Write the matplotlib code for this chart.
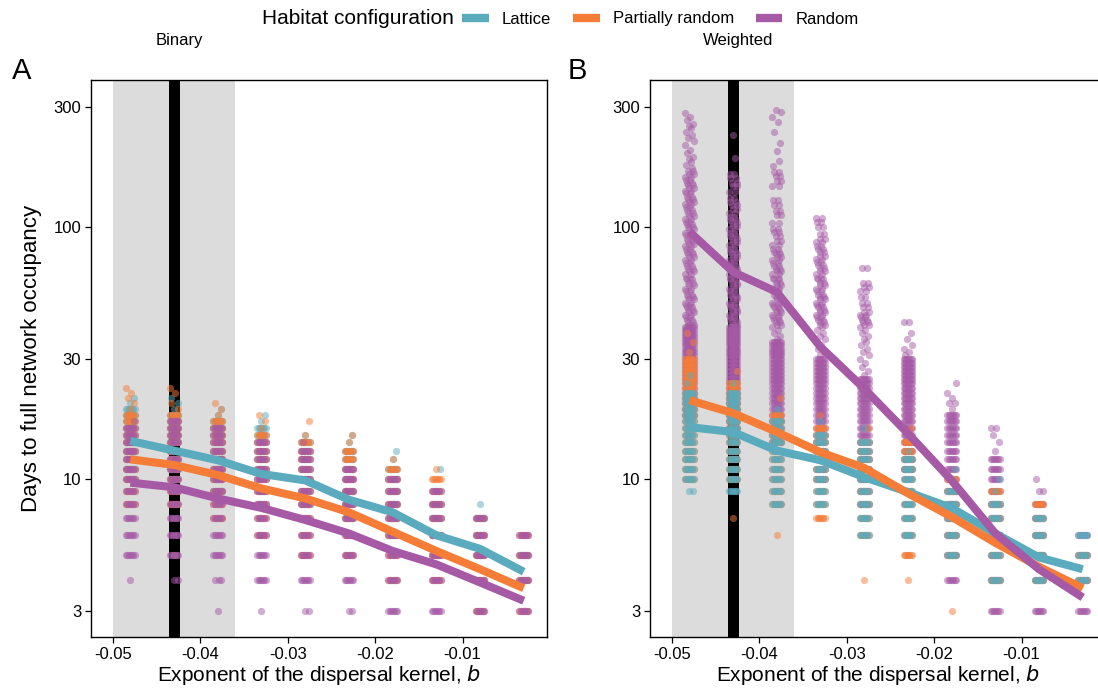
import matplotlib.pyplot as plt
import numpy as np
from matplotlib.lines import Line2D

plt.rcParams["font.family"] = ["Liberation Sans", "DejaVu Sans"]
plt.rcParams["axes.unicode_minus"] = False

b_values = [-0.048, -0.043, -0.038, -0.033, -0.028, -0.023, -0.018, -0.013, -0.008, -0.003]
configs = ["Lattice", "Partially random", "Random"]
colors = ["#5aabbd", "#f57d38", "#a65aa6"]

# mean days to full network occupancy per exponent
binary_lattice_mean = [14.2, 13.0, 11.9, 10.5, 9.9, 8.3, 7.4, 6.0, 5.3, 4.3]
binary_partial_mean = [12.0, 11.4, 10.4, 9.2, 8.4, 7.4, 6.2, 5.2, 4.4, 3.7]
binary_random_mean = [9.7, 9.3, 8.4, 7.7, 6.9, 6.1, 5.2, 4.6, 3.9, 3.3]
weighted_lattice_mean = [16.1, 15.4, 13.0, 11.9, 10.2, 8.9, 7.7, 6.1, 4.9, 4.4]
weighted_partial_mean = [20.6, 18.3, 15.4, 12.8, 11.1, 8.8, 7.1, 5.6, 4.5, 3.7]
weighted_random_mean = [96.0, 66.4, 55.3, 33.5, 22.9, 15.2, 9.9, 6.1, 4.4, 3.4]

# day counts reached by many runs (one list per exponent)
binary_lattice_common = [
    [10, 11, 12, 13, 14, 15, 16, 17, 18, 19],
    [10, 11, 12, 13, 14, 15, 16, 17, 18],
    [9, 10, 11, 12, 13, 14, 15, 16, 17],
    [8, 9, 10, 11, 12, 13, 14, 15, 16],
    [8, 9, 10, 11, 12, 13, 14],
    [7, 8, 9, 10, 11, 12, 13],
    [6, 7, 8, 9, 10, 11],
    [5, 6, 7, 8],
    [4, 5, 6, 7],
    [4, 5],
]
binary_partial_common = [
    [8, 9, 10, 11, 12, 13, 14, 15, 16, 17, 18],
    [8, 9, 10, 11, 12, 13, 14, 15, 16, 17, 18],
    [7, 8, 9, 10, 11, 12, 13, 14, 15, 16, 17],
    [6, 7, 8, 9, 10, 11, 12, 13, 14, 15],
    [5, 6, 7, 8, 9, 10, 11, 12, 13, 14],
    [5, 6, 7, 8, 9, 10, 11, 12, 13],
    [4, 5, 6, 7, 8, 9, 10, 11],
    [4, 5, 6, 7, 8, 9, 10],
    [3, 4, 5, 6, 7],
    [3, 4, 5, 6],
]
binary_random_common = [
    [5, 6, 7, 8, 9, 10, 11, 12, 13, 14, 15, 16],
    [5, 6, 7, 8, 9, 10, 11, 12, 13, 14, 15, 16, 17],
    [5, 6, 7, 8, 9, 10, 11, 12, 13, 14, 15, 16],
    [4, 5, 6, 7, 8, 9, 10, 11, 12, 13, 14],
    [4, 5, 6, 7, 8, 9, 10, 11, 12, 13],
    [4, 5, 6, 7, 8, 9, 10, 11],
    [3, 4, 5, 6, 7, 8, 9, 10],
    [3, 4, 5, 6, 7, 8, 9],
    [3, 4, 5, 6, 7],
    [3, 4, 5, 6],
]

# day counts reached by only a few runs
binary_lattice_rare = [[20, 21], [19, 20, 21], [18, 19], [17, 18], [15], [14, 15], [12, 13], [9, 11], [8], []]
binary_partial_rare = [[19, 20, 21, 22, 23], [5, 19, 20, 22, 23], [18, 19, 20], [16, 17, 18], [15, 17],
                       [14, 15], [12], [11], [], []]
binary_random_rare = [[4, 17], [4, 4], [3, 4, 4, 4], [3], [3, 3, 14], [3, 3], [], [], [], []]

weighted_lattice_common = [
    [10, 11, 12, 13, 14, 15, 16, 17, 18, 19, 20, 21, 22],
    [9, 10, 11, 12, 13, 14, 15, 16, 17, 18, 19, 20, 21, 22],
    [8, 9, 10, 11, 12, 13, 14, 15, 16, 17],
    [8, 9, 10, 11, 12, 13, 14, 15],
    [6, 7, 8, 9, 10, 11, 12, 13, 14],
    [6, 7, 8, 9, 10, 11, 12],
    [5, 6, 7, 8, 9],
    [4, 5, 6, 7, 8],
    [4, 5, 6, 7],
    [4, 5, 6],
]
weighted_partial_common = [
    [10, 11, 12, 13, 14, 15, 16, 17, 18, 19, 20, 21, 22, 23, 24, 25, 26, 27, 28, 29, 30],
    [10, 11, 12, 13, 14, 15, 16, 17, 18, 19, 20, 21, 22, 23, 24],
    [8, 9, 10, 11, 12, 13, 14, 15, 16, 17, 18],
    [7, 8, 9, 10, 11, 12, 13, 14, 15, 16],
    [6, 7, 8, 9, 10, 11, 12, 13, 14],
    [5, 6, 7, 8, 9, 10, 11, 12, 13, 14],
    [5, 6, 7, 8, 9, 10],
    [4, 5, 6, 7, 8, 9],
    [4, 5, 6, 7, 8],
    [4, 5],
]
weighted_random_common = [
    [18, 19, 20, 21, 22, 23, 24, 25, 26, 27, 28, 29, 30, 31, 32, 33, 34, 35, 36, 37, 38, 39, 40],
    [16, 17, 18, 19, 20, 21, 22, 23, 24, 25, 26, 27, 28, 29, 30, 31, 32, 33, 34, 35, 36, 37, 38, 39, 40],
    [14, 15, 16, 17, 18, 19, 20, 21, 22, 23, 24, 25, 26, 27, 28, 29, 30, 31, 32, 33, 34, 35],
    [10, 11, 12, 13, 14, 15, 16, 17, 18, 19, 20, 21, 22, 23, 24, 25, 26, 27, 28, 29, 30],
    [8, 9, 10, 11, 12, 13, 14, 15, 16, 17, 18, 19, 20, 21, 22, 23, 24, 25],
    [11, 12, 13, 14, 15, 16, 17, 18, 19, 20, 21, 22, 23, 24, 25, 26, 27, 28, 29, 30],
    [4, 5, 6, 7, 8, 9, 10, 11, 12, 13, 14, 15, 16, 17, 18],
    [3, 4, 5, 6, 7, 8, 9, 10, 11, 12],
    [3, 4, 5, 6, 7, 8],
    [3, 4, 5, 6],
]

weighted_lattice_rare = [[9, 9, 24, 26], [24], [19], [17], [16], [13], [10, 11], [9, 10], [], []]
weighted_partial_rare = [[32, 35, 38], [7, 27], [6, 21], [18], [4, 16], [4, 16], [3], [], [], []]
weighted_random_rare = [
    [41, 42, 43, 44, 45, 46, 47, 48, 49, 50, 52, 53, 54, 56, 57, 59, 60, 62, 63, 65, 67, 68, 70,
     72, 74, 76, 78, 80, 82, 84, 86, 88, 90, 93, 95, 98, 100, 103, 105, 108, 111, 114, 117, 120,
     123, 126, 129, 132, 136, 139, 143, 147, 150, 154, 158, 163, 167, 171, 176, 181, 186, 190,
     196, 203, 212, 220, 226, 232, 238, 246, 252, 257, 265, 272, 284],
    [41, 42, 43, 44, 45, 46, 47, 48, 49, 50, 52, 53, 54, 56, 57, 59, 60, 62, 63, 65, 67, 68, 70,
     72, 74, 76, 78, 80, 82, 85, 87, 90, 92, 95, 98, 101, 104, 107, 110, 114, 118, 122, 126, 131,
     138, 145, 150, 156, 163, 188, 232],
    [36, 37, 38, 39, 40, 41, 42, 43, 44, 45, 46, 47, 48, 49, 50, 52, 53, 54, 56, 57, 59, 60, 62,
     63, 65, 67, 68, 70, 72, 74, 76, 78, 80, 82, 85, 88, 92, 96, 98, 104, 112, 116, 122, 128,
     146, 152, 160, 166, 174, 182, 200, 215, 238, 262, 272, 285, 292],
    [31, 32, 33, 34, 35, 36, 37, 38, 39, 40, 41, 42, 43, 44, 45, 46, 47, 48, 49, 50, 52, 53, 54,
     56, 57, 59, 60, 62, 63, 65, 67, 69, 71, 73, 75, 77, 80, 82, 84, 87, 90, 94, 100, 105, 109],
    [26, 27, 28, 29, 30, 31, 32, 33, 34, 35, 36, 37, 38, 39, 40, 41, 42, 43, 44, 45, 46, 48, 50,
     53, 56, 58, 60, 69],
    [5, 7, 31, 32, 33, 34, 36, 38, 42],
    [19, 20, 20, 21, 22, 24],
    [13, 14, 15, 16, 16],
    [9, 9, 10],
    [],
]

band_offsets = np.linspace(-0.0005, 0.0005, 7)
single_offsets = [0.0, 0.0004, -0.0003, 0.0001, -0.0005, 0.0005, -0.0001, 0.0003, -0.0004, 0.0002]


def draw_points(ax, common, rare, color):
    xs, ys = [], []
    for b, days in zip(b_values, common):
        for d in days:
            xs.extend(b + band_offsets)
            ys.extend([d] * len(band_offsets))
    for b, days in zip(b_values, rare):
        for i, d in enumerate(days):
            xs.append(b + single_offsets[i % len(single_offsets)])
            ys.append(d)
            # dense tails get a second point beside the first
            if d > 40 and d < 170:
                xs.append(b + single_offsets[(i + 5) % len(single_offsets)])
                ys.append(d)
    ax.scatter(xs, ys, s=27, color=color, alpha=0.5, linewidths=0, zorder=3)


def style_axes(ax):
    ax.set_yscale("log")
    ax.set_xlim(-0.0525, -0.00034)
    ax.set_ylim(2.37, 383)
    ax.axvspan(-0.05, -0.036, color="#dcdcdc", lw=0, zorder=0)
    ax.axvline(-0.043, color="black", lw=7.9, zorder=1)
    ax.set_yticks([3, 10, 30, 100, 300])
    ax.set_yticklabels(["3", "10", "30", "100", "300"])
    ax.yaxis.set_minor_locator(plt.NullLocator())
    ax.set_xticks([-0.05, -0.04, -0.03, -0.02, -0.01])
    ax.set_xticklabels(["-0.05", "-0.04", "-0.03", "-0.02", "-0.01"])
    ax.tick_params(labelsize=12, length=4, width=0.9, colors="black", pad=3)
    for sp in ax.spines.values():
        sp.set_linewidth(1.0)
    ax.set_xlabel("Exponent of the dispersal kernel, $\\it{b}$", fontsize=15, labelpad=1)


fig = plt.figure(figsize=(10.98, 6.9), dpi=100)
ax_a = fig.add_axes([91 / 1098, 53 / 690, 456 / 1098, 557 / 690])
ax_b = fig.add_axes([650 / 1098, 53 / 690, 456 / 1098, 557 / 690])

# Binary: random drawn last
style_axes(ax_a)
draw_points(ax_a, binary_lattice_common, binary_lattice_rare, colors[0])
draw_points(ax_a, binary_partial_common, binary_partial_rare, colors[1])
draw_points(ax_a, binary_random_common, binary_random_rare, colors[2])

# Weighted: lattice drawn last
style_axes(ax_b)
draw_points(ax_b, weighted_random_common, weighted_random_rare, colors[2])
draw_points(ax_b, weighted_partial_common, weighted_partial_rare, colors[1])
draw_points(ax_b, weighted_lattice_common, weighted_lattice_rare, colors[0])

for ax, means in [(ax_a, [binary_lattice_mean, binary_partial_mean, binary_random_mean]),
                  (ax_b, [weighted_lattice_mean, weighted_partial_mean, weighted_random_mean])]:
    for m, c in zip(means, colors):
        ax.plot(b_values, m, color=c, lw=5.8, solid_capstyle="butt", zorder=4)

ax_a.set_ylabel("Days to full network occupancy", fontsize=16, labelpad=8)

fig.text(12 / 1098, 1 - 79 / 690, "A", fontsize=21)
fig.text(568 / 1098, 1 - 79 / 690, "B", fontsize=21)
fig.text(179 / 1098, 1 - 40 / 690, "Binary", fontsize=12, ha="center", va="center")
fig.text(738 / 1098, 1 - 40 / 690, "Weighted", fontsize=12, ha="center", va="center")

fig.text(262 / 1098, 1 - 19 / 690, "Habitat configuration", fontsize=15, va="center")
handles = [Line2D([], [], color=c, lw=6, solid_capstyle="butt") for c in colors]
fig.legend(handles, configs, loc="center left", bbox_to_anchor=(462 / 1098, 1 - 19 / 690),
           ncol=3, frameon=False, fontsize=12, handlelength=1.6, handletextpad=0.8,
           columnspacing=1.3, borderpad=0, borderaxespad=0)

fig.savefig("out.png", dpi=100)
